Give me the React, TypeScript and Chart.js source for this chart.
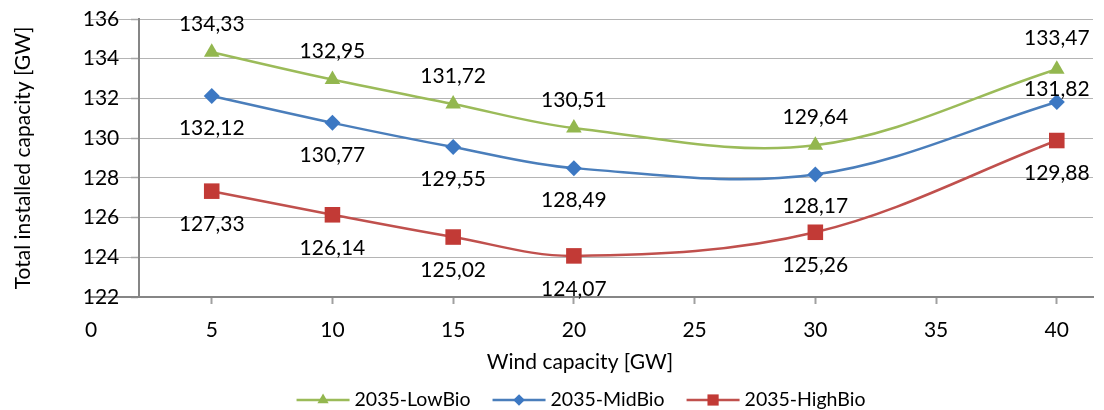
import { useEffect, useRef } from 'react';
import { Chart, registerables } from 'chart.js';

Chart.register(...registerables);

// ---- data ----
const WIND_CAPACITY = [5, 10, 15, 20, 30, 40];
const LOW_BIO = [134.33, 132.95, 131.72, 130.51, 129.64, 133.47];
const MID_BIO = [132.12, 130.77, 129.55, 128.49, 128.17, 131.82];
const HIGH_BIO = [127.33, 126.14, 125.02, 124.07, 125.26, 129.88];
const SERIES_NAMES = ['2035-LowBio', '2035-MidBio', '2035-HighBio'];
const X_TITLE = 'Wind capacity [GW]';
const Y_TITLE = 'Total installed capacity [GW]';
const X_MIN = 0;
const X_MAX = 41.5;
const X_STEP = 5;
const Y_MIN = 122;
const Y_MAX = 136;
const Y_STEP = 2;
const Y_AXIS_CROSSES_AT = 2;

// ---- styles ----
const FONT = 'Lato, "Noto Sans", sans-serif';
const FONT_SIZE = 21;
const LEGEND_FONT_SIZE = 19.5;
const TEXT_COLOR = '#000000';
const AXIS_COLOR = '#868686';
const GRID_COLOR = '#B4B4B4';
const LINE_COLORS = ['#9BBB59', '#4A7EBB', '#C0504D'];
const MARKER_COLORS = ['#93B74F', '#3C78C3', '#C23A36'];
const POINT_STYLES = ['triangle', 'rectRot', 'rect'];
const POINT_RADII = [9, 8, 11];
const LABEL_OFFSETS = [
  [-28, -28, -28, -28, -28, -31],
  [32, 32, 32, 32, 32, -13],
  [33, 33, 33, 33, 33, 33],
];
const Y_LABEL_SHIFT = 20;

const fmt = (v: number) => v.toFixed(2).replace('.', ',');

function drawMarker(ctx: CanvasRenderingContext2D, style: string, x: number, y: number, r: number) {
  ctx.beginPath();
  if (style === 'triangle') {
    ctx.moveTo(x, y - r);
    ctx.lineTo(x + r * 0.866, y + r * 0.5);
    ctx.lineTo(x - r * 0.866, y + r * 0.5);
    ctx.closePath();
  } else if (style === 'rectRot') {
    ctx.moveTo(x, y - r);
    ctx.lineTo(x + r, y);
    ctx.lineTo(x, y + r);
    ctx.lineTo(x - r, y);
    ctx.closePath();
  } else {
    const s = r * Math.SQRT1_2;
    ctx.rect(x - s, y - s, 2 * s, 2 * s);
  }
  ctx.fill();
}

const decorPlugin = {
  id: 'decor',
  beforeDraw(chart: any) {
    const y = chart.scales.y;
    if (!y || !y.getLabelItems) return;
    const items = y.getLabelItems(chart.chartArea);
    for (const it of items) {
      if (!it._shifted && it.options && Array.isArray(it.options.translation)) {
        it.options.translation = [it.options.translation[0] - Y_LABEL_SHIFT, it.options.translation[1]];
        it._shifted = true;
      }
    }
  },
  afterDatasetsDraw(chart: any) {
    const ctx: CanvasRenderingContext2D = chart.ctx;
    const area = chart.chartArea;
    ctx.save();
    ctx.font = `${FONT_SIZE}px ${FONT}`;
    ctx.fillStyle = TEXT_COLOR;
    ctx.textAlign = 'center';
    ctx.textBaseline = 'middle';
    // data labels
    chart.data.datasets.forEach((ds: any, di: number) => {
      const meta = chart.getDatasetMeta(di);
      meta.data.forEach((pt: any, i: number) => {
        const v = ds.data[i].y;
        ctx.fillText(fmt(v), pt.x, pt.y + LABEL_OFFSETS[di][i]);
      });
    });
    // x title
    ctx.fillText(X_TITLE, 580, area.bottom + 65);
    // y title
    ctx.save();
    ctx.translate(23, (area.top + area.bottom) / 2);
    ctx.rotate(-Math.PI / 2);
    ctx.fillText(Y_TITLE, 0, 0);
    ctx.restore();
    // legend
    ctx.font = `${LEGEND_FONT_SIZE}px ${FONT}`;
    const lineLen = 53;
    const gapText = 5;
    const gapItem = 22;
    const widths = chart.data.datasets.map((ds: any) => ctx.measureText(ds.label).width);
    const total = widths.reduce((a: number, b: number) => a + b, 0) + 3 * (lineLen + gapText) + 2 * gapItem;
    let lx = 581 - total / 2;
    const ly = 400;
    ctx.textAlign = 'left';
    chart.data.datasets.forEach((ds: any, di: number) => {
      ctx.strokeStyle = LINE_COLORS[di];
      ctx.lineWidth = 2.5;
      ctx.beginPath();
      ctx.moveTo(lx, ly);
      ctx.lineTo(lx + lineLen, ly);
      ctx.stroke();
      ctx.fillStyle = MARKER_COLORS[di];
      drawMarker(ctx, POINT_STYLES[di], lx + lineLen / 2, ly, POINT_RADII[di] * 0.72);
      ctx.fillStyle = TEXT_COLOR;
      ctx.fillText(ds.label, lx + lineLen + gapText, ly);
      lx += lineLen + gapText + widths[di] + gapItem;
    });
    ctx.restore();
  },
};

const SERIES = [LOW_BIO, MID_BIO, HIGH_BIO];

export default function App() {
  const ref = useRef<HTMLCanvasElement>(null);
  useEffect(() => {
    if (!ref.current) return;
    const chart = new Chart(ref.current, {
      type: 'scatter',
      data: {
        datasets: SERIES.map((vals, di) => ({
          label: SERIES_NAMES[di],
          data: WIND_CAPACITY.map((x, i) => ({ x, y: vals[i] })),
          showLine: true,
          borderColor: LINE_COLORS[di],
          backgroundColor: MARKER_COLORS[di],
          pointBackgroundColor: MARKER_COLORS[di],
          pointBorderColor: MARKER_COLORS[di],
          pointBorderWidth: 0,
          pointStyle: POINT_STYLES[di] as any,
          pointRadius: POINT_RADII[di],
          borderWidth: 2.5,
          tension: 0.35,
        })),
      },
      options: {
        responsive: false,
        animation: false,
        devicePixelRatio: 1,
        layout: { padding: { left: 91, top: 19, right: 3, bottom: 54 } },
        plugins: {
          legend: { display: false },
          tooltip: { enabled: false },
        },
        scales: {
          x: {
            type: 'linear',
            position: 'bottom',
            min: X_MIN,
            max: X_MAX,
            ticks: {
              stepSize: X_STEP,
              includeBounds: false,
              padding: 13.4,
              color: TEXT_COLOR,
              font: { family: FONT, size: FONT_SIZE },
              maxRotation: 0,
            },
            grid: {
              drawOnChartArea: false,
              drawTicks: true,
              tickLength: 7,
              tickWidth: 2,
              tickColor: (c: any) => (c.tick && c.tick.value === 0 ? 'rgba(0,0,0,0)' : '#A0A0A0'),
            },
            border: { color: AXIS_COLOR, width: 2 },
          },
          y: {
            type: 'linear',
            position: { x: Y_AXIS_CROSSES_AT } as any,
            min: Y_MIN,
            max: Y_MAX,
            ticks: {
              stepSize: Y_STEP,
              color: TEXT_COLOR,
              font: { family: FONT, size: FONT_SIZE },
            },
            grid: {
              color: GRID_COLOR,
              lineWidth: 1,
              borderDash: [1.5, 2],
              tickLength: 7,
              tickColor: '#A6A6A6',
              tickWidth: 1.5,
              tickBorderDash: [],
            } as any,
            border: { color: AXIS_COLOR, width: 2 },
          },
        },
      },
      plugins: [decorPlugin],
    } as any);
    return () => chart.destroy();
  }, []);
  return (
    <div style={{ position: 'absolute', left: 0, top: 0, width: 1104, height: 410, background: '#fff' }}>
      <canvas ref={ref} width={1104} height={410} style={{ display: 'block', width: 1104, height: 410 }} />
    </div>
  );
}
